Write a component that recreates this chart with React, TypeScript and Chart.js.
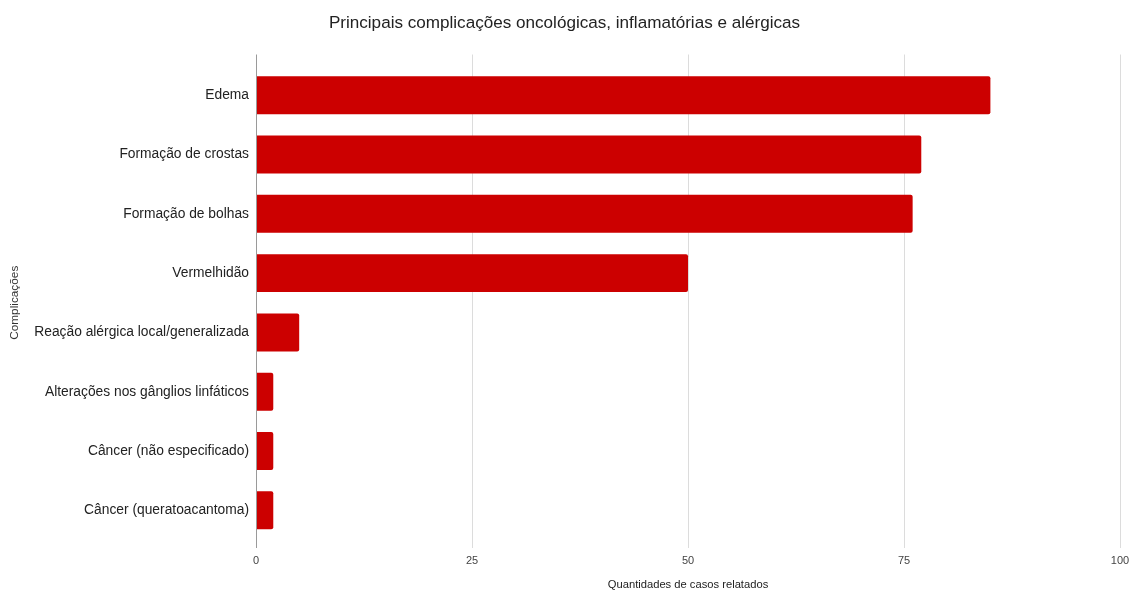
import React, { useEffect, useRef } from "react";
import { Chart, registerables } from "chart.js";

Chart.register(...registerables);

const categories = [
  "Edema",
  "Formação de crostas",
  "Formação de bolhas",
  "Vermelhidão",
  "Reação alérgica local/generalizada",
  "Alterações nos gânglios linfáticos",
  "Câncer (não especificado)",
  "Câncer (queratoacantoma)",
];
const values = [85, 77, 76, 50, 5, 2, 2, 2];
const xTicks = [0, 25, 50, 75, 100];

const FONT = "'Liberation Sans', Arial, sans-serif";

const gridPlugin = {
  id: "extendedGrid",
  beforeDatasetsDraw(chart: any) {
    const { ctx, chartArea, scales } = chart;
    const x = scales.x;
    const top = chartArea.top - 11;
    const bottom = chartArea.bottom + 8;
    ctx.save();
    ctx.lineWidth = 1;
    ctx.strokeStyle = "#dcdcdc";
    xTicks.forEach((t) => {
      if (t === 0) return;
      const px = Math.round(x.getPixelForValue(t)) + 0.5;
      ctx.beginPath();
      ctx.moveTo(px, top);
      ctx.lineTo(px, bottom);
      ctx.stroke();
    });
    ctx.restore();
  },
  afterDatasetsDraw(chart: any) {
    const { ctx, chartArea, scales } = chart;
    const x = scales.x;
    const top = chartArea.top - 11;
    const bottom = chartArea.bottom + 8;
    ctx.save();
    ctx.lineWidth = 1;
    ctx.strokeStyle = "#9a9a9a";
    const px = Math.round(x.getPixelForValue(0)) + 0.5;
    ctx.beginPath();
    ctx.moveTo(px, top);
    ctx.lineTo(px, bottom);
    ctx.stroke();
    ctx.restore();
  },
};

export default function App() {
  const ref = useRef<HTMLCanvasElement | null>(null);

  useEffect(() => {
    if (!ref.current) return;
    const chart = new Chart(ref.current, {
      type: "bar",
      data: {
        labels: categories,
        datasets: [
          {
            data: values,
            backgroundColor: "#cc0000",
            borderRadius: 2,
            borderSkipped: "start",
            barPercentage: 0.64,
            categoryPercentage: 1,
          },
        ],
      },
      plugins: [gridPlugin],
      options: {
        indexAxis: "y",
        animation: false,
        responsive: true,
        maintainAspectRatio: false,
        layout: { padding: { left: 0, right: 0, top: 0, bottom: 0 } },
        plugins: {
          legend: { display: false },
          tooltip: { enabled: false },
          title: {
            display: true,
            text: "Principais complicações oncológicas, inflamatórias e alérgicas",
            color: "#222",
            font: { family: FONT, size: 17.1, weight: "normal" },
            padding: { top: 13, bottom: 32 },
          },
        },
        scales: {
          x: {
            min: 0,
            max: 100,
            afterBuildTicks: (scale: any) => {
              scale.ticks = xTicks.map((v) => ({ value: v }));
            },
            afterFit: (scale: any) => {
              scale.height = 52;
              scale.paddingRight = 9;
            },
            grid: { display: false, drawTicks: false },
            border: { display: false },
            ticks: {
              color: "#444",
              font: { family: FONT, size: 11 },
              padding: 14,
              maxRotation: 0,
            },
            title: {
              display: true,
              text: "Quantidades de casos relatados",
              color: "#222",
              font: { family: FONT, size: 11.2 },
              padding: { top: 12, bottom: 0 },
            },
          },
          y: {
            afterFit: (scale: any) => {
              scale.width = 256;
            },
            grid: { display: false, drawTicks: false },
            border: { display: false },
            ticks: {
              color: "#222",
              font: { family: FONT, size: 13.8 },
              padding: 7,
            },
            title: {
              display: true,
              text: "Complicações",
              color: "#333",
              font: { family: FONT, size: 11.8 },
              padding: { top: 8, bottom: 4 },
            },
          },
        },
      },
    });
    return () => chart.destroy();
  }, []);

  return (
    <div style={{ position: "fixed", left: 0, top: 0, width: 1129, height: 592, background: "#fff" }}>
      <canvas ref={ref} />
    </div>
  );
}
